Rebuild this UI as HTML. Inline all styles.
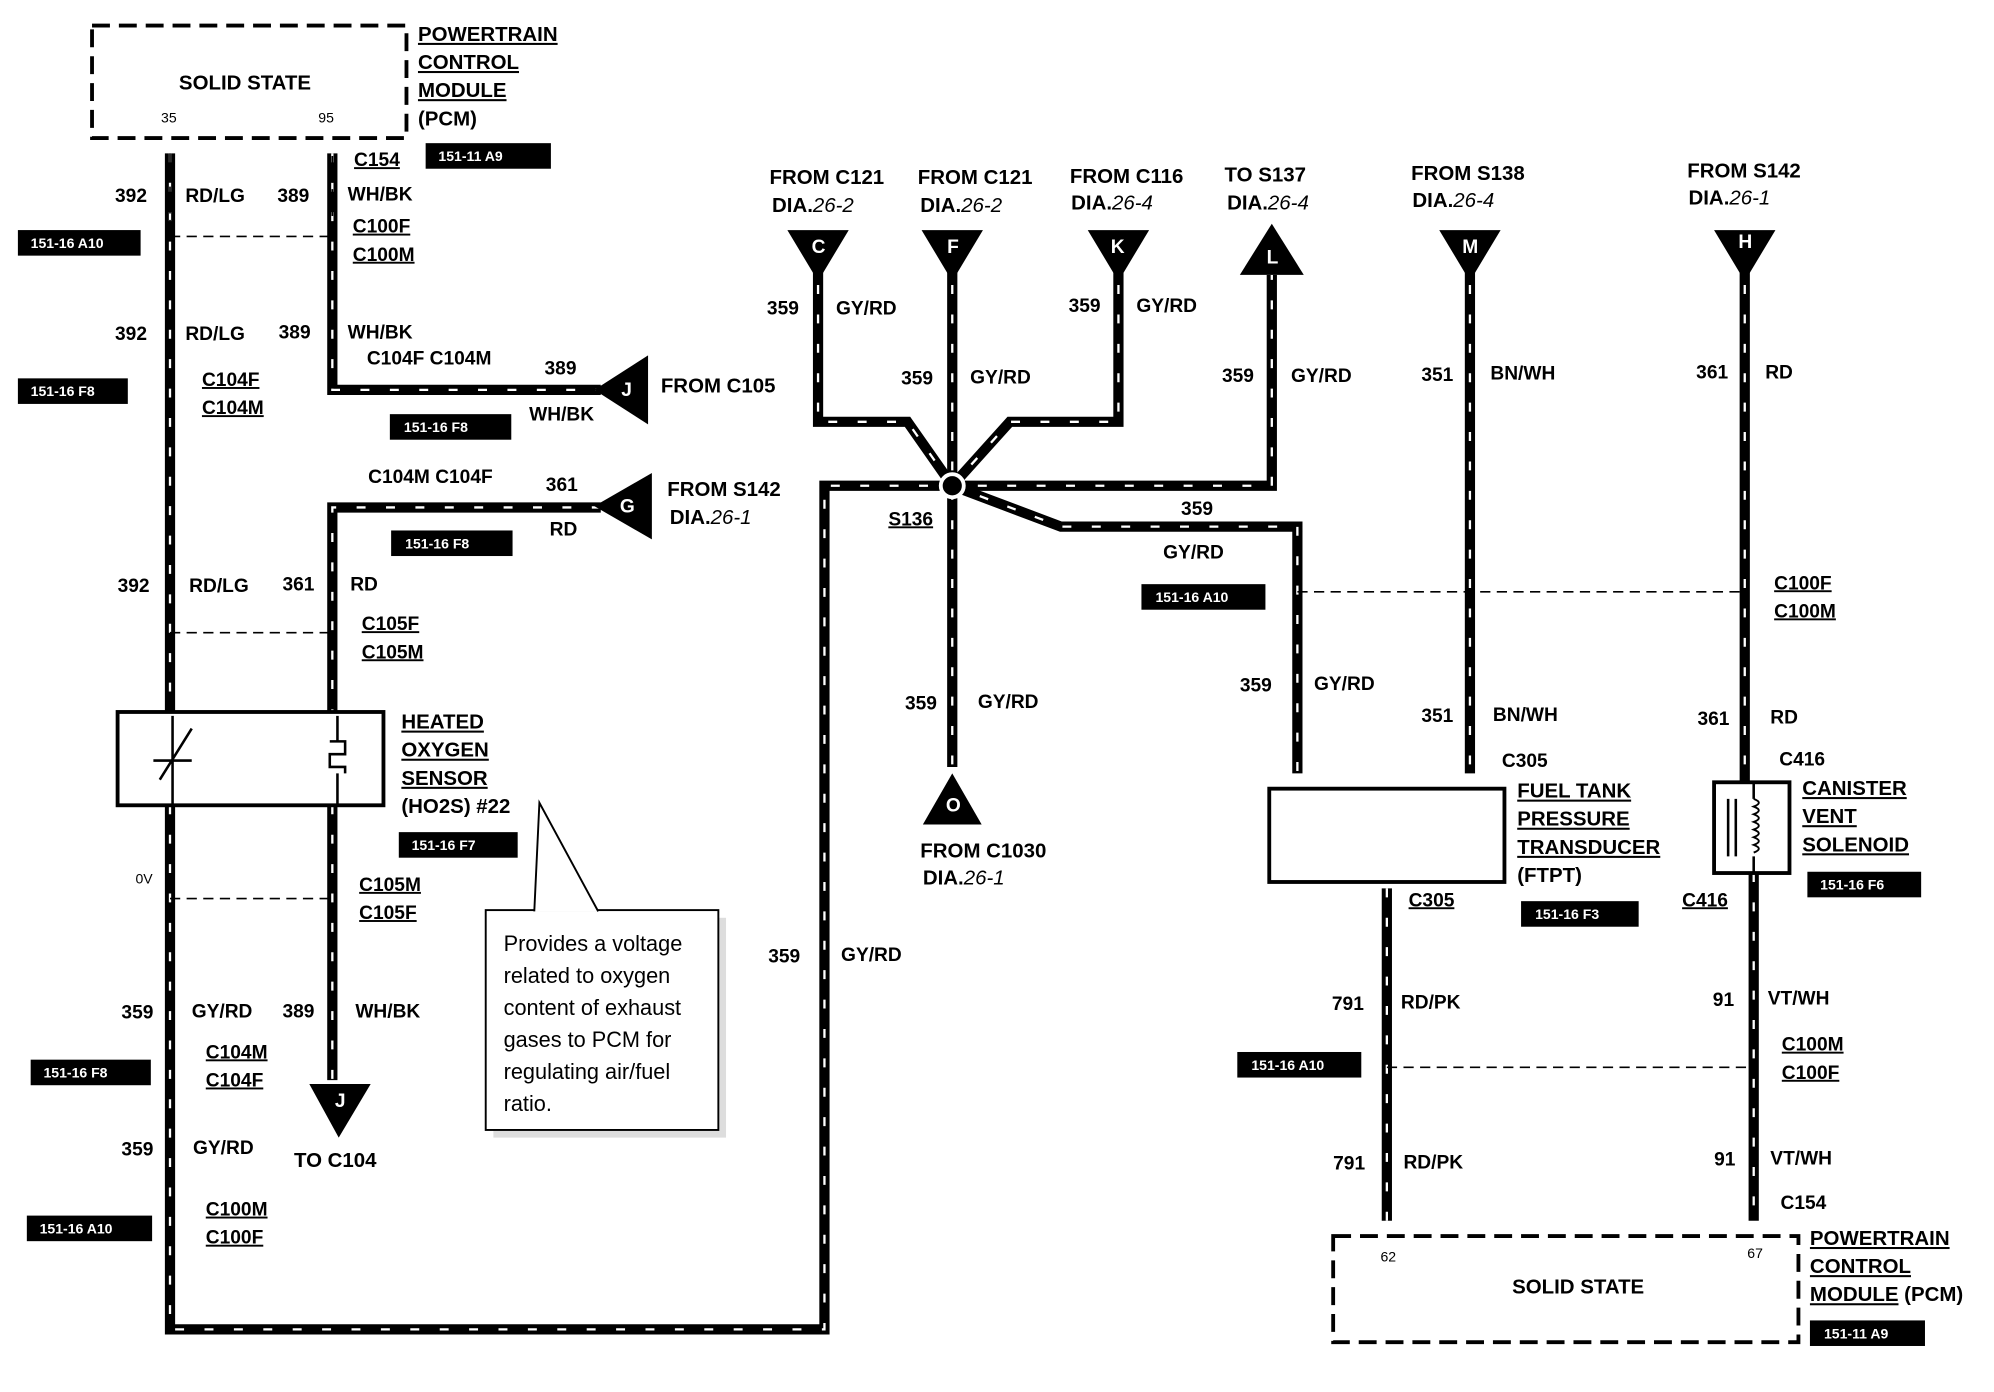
<!DOCTYPE html>
<html><head><meta charset="utf-8"><style>
html,body{margin:0;padding:0;background:#fff;}
svg{display:block;}
text{font-family:"Liberation Sans",sans-serif;font-weight:bold;font-size:15px;fill:#000;}
.w{stroke:#000;stroke-width:8;fill:none;stroke-linejoin:miter;}
.h{stroke:#fff;stroke-width:1.8;fill:none;stroke-dasharray:7 16;}
.d{stroke:#000;stroke-width:1.3;fill:none;stroke-dasharray:8 5;}
.t text{fill:#fff;font-size:11px;}
.u{text-decoration:underline;}
.s{font-size:11px;font-weight:normal;}
</style></head><body>
<svg width="1994" height="1392" viewBox="0 0 1560 1089" preserveAspectRatio="none" xmlns="http://www.w3.org/2000/svg">
<defs>
<g id="wires">
<path d="M133 120V557M133 630V1040H645V380H995V215"/>
<path d="M260 120V305H470"/>
<path d="M470 397H260V557M260 630V845"/>
<path d="M640 200V330H710L745 380"/>
<path d="M745 200V600"/>
<path d="M875 200V330H790L745 380"/>
<path d="M745 380L830 412H1015V605"/>
<path d="M1150 200V605M1365 200V612"/>
<path d="M1085 695V955M1372 683V955"/>
</g>
</defs>
<g class="w"><use href="#wires"/></g>
<g class="h"><use href="#wires"/></g>
<circle cx="745" cy="380" r="9" fill="#000" stroke="#fff" stroke-width="3"/>

<!-- dashed boxes -->
<rect x="72" y="20" width="246" height="88" fill="none" stroke="#000" stroke-width="3" stroke-dasharray="14 7"/>
<rect x="1043" y="967" width="364" height="83" fill="none" stroke="#000" stroke-width="3" stroke-dasharray="14 7"/>
<g class="d">
<path d="M133 120V185H260V120"/><path d="M133 495H260M133 703H260M1015 463H1365M1085 835H1372"/>
</g>
<!-- sensor boxes -->
<rect x="92" y="557" width="208" height="73" fill="#fff" stroke="#000" stroke-width="3"/>
<path d="M125 610L150 570M120 595H150M135 560V630M264 560V580M258 580h12v10h-12v10h12v5M264 605V630" stroke="#000" stroke-width="2" fill="none"/>
<rect x="993" y="617" width="184" height="73" fill="#fff" stroke="#000" stroke-width="3"/>
<rect x="1341" y="612" width="59" height="71" fill="#fff" stroke="#000" stroke-width="3"/>
<path d="M1352 625V670M1358 625V670M1372 612V625M1372 670V683" stroke="#000" stroke-width="2" fill="none"/>
<path d="M1372 625q8 3 0 6q8 3 0 6q8 3 0 6q8 3 0 6q8 3 0 6q8 3 0 6q8 3 0 6" stroke="#000" stroke-width="1.5" fill="none"/>
<!-- triangles -->
<g fill="#000">
<path d="M616 180H664L640 220Z"/><path d="M721 180H769L745 220Z"/><path d="M851 180H899L875 220Z"/>
<path d="M995 175L970 215H1020Z"/><path d="M1126 180H1174L1150 220Z"/><path d="M1341 180H1389L1365 220Z"/>
<path d="M465 305L507 278V332Z"/><path d="M465 396L510 370V422Z"/>
<path d="M242 848H290L265 890Z"/><path d="M745 605L722 645H768Z"/>
</g>
<g fill="#fff" style="font-size:14px">
<text x="635" y="198" style="fill:#fff">C</text><text x="741" y="198" style="fill:#fff">F</text><text x="869" y="198" style="fill:#fff">K</text>
<text x="991" y="206" style="fill:#fff">L</text><text x="1144" y="198" style="fill:#fff">M</text><text x="1360" y="194" style="fill:#fff">H</text>
<text x="486" y="310" style="fill:#fff">J</text><text x="485" y="401" style="fill:#fff">G</text>
<text x="262" y="866" style="fill:#fff">J</text><text x="740" y="635" style="fill:#fff">O</text>
</g>
<!-- tags -->
<g class="t">
<rect x="333" y="112" width="98" height="20"/><text x="343" y="126">151-11 A9</text>
<rect x="14" y="180" width="96" height="20"/><text x="24" y="194">151-16 A10</text>
<rect x="14" y="296" width="86" height="20"/><text x="24" y="310">151-16 F8</text>
<rect x="305" y="324" width="95" height="20"/><text x="316" y="338">151-16 F8</text>
<rect x="306" y="415" width="95" height="20"/><text x="317" y="429">151-16 F8</text>
<rect x="312" y="651" width="93" height="20"/><text x="322" y="665">151-16 F7</text>
<rect x="24" y="829" width="94" height="20"/><text x="34" y="843">151-16 F8</text>
<rect x="21" y="951" width="98" height="20"/><text x="31" y="965">151-16 A10</text>
<rect x="893" y="457" width="97" height="20"/><text x="904" y="471">151-16 A10</text>
<rect x="1414" y="682" width="89" height="20"/><text x="1424" y="696">151-16 F6</text>
<rect x="1190" y="705" width="92" height="20"/><text x="1201" y="719">151-16 F3</text>
<rect x="968" y="823" width="97" height="20"/><text x="979" y="837">151-16 A10</text>
<rect x="1416" y="1033" width="90" height="20"/><text x="1427" y="1047">151-11 A9</text>
</g>
<!-- callout -->
<rect x="386" y="718" width="182" height="172" fill="#ddd"/>
<rect x="380" y="712" width="182" height="172" fill="#fff" stroke="#000" stroke-width="1.5"/>
<path d="M418 713L422 628L468 713" fill="#fff" stroke="#000" stroke-width="1.5"/>
<g style="font-weight:normal;font-size:17px">
<text x="394" y="744" style="font-weight:normal;font-size:17px">Provides a voltage</text>
<text x="394" y="769" style="font-weight:normal;font-size:17px">related to oxygen</text>
<text x="394" y="794" style="font-weight:normal;font-size:17px">content of exhaust</text>
<text x="394" y="819" style="font-weight:normal;font-size:17px">gases to PCM for</text>
<text x="394" y="844" style="font-weight:normal;font-size:17px">regulating air/fuel</text>
<text x="394" y="869" style="font-weight:normal;font-size:17px">ratio.</text>
</g>
<!-- texts -->
<text x="140" y="70" style="font-size:16px">SOLID STATE</text>
<text x="126" y="96" class="s">35</text><text x="249" y="96" class="s">95</text>
<text x="327" y="32" style="font-size:16px" text-decoration="underline">POWERTRAIN</text>
<text x="327" y="54" style="font-size:16px" text-decoration="underline">CONTROL</text>
<text x="327" y="76" style="font-size:16px" text-decoration="underline">MODULE</text>
<text x="327" y="98" style="font-size:16px">(PCM)</text>
<text x="277" y="130" text-decoration="underline">C154</text>
<text x="90" y="158">392</text><text x="145" y="158">RD/LG</text><text x="217" y="158">389</text><text x="272" y="157">WH/BK</text>
<text x="276" y="182" text-decoration="underline">C100F</text><text x="276" y="204" text-decoration="underline">C100M</text>
<text x="90" y="266">392</text><text x="145" y="266">RD/LG</text><text x="218" y="265">389</text><text x="272" y="265">WH/BK</text>
<text x="287" y="285">C104F C104M</text><text x="426" y="293">389</text><text x="414" y="329">WH/BK</text>
<text x="517" y="307" style="font-size:16px">FROM C105</text>
<text x="158" y="302" text-decoration="underline">C104F</text><text x="158" y="324" text-decoration="underline">C104M</text>
<text x="288" y="378">C104M C104F</text><text x="427" y="384">361</text><text x="430" y="419">RD</text>
<text x="522" y="388" style="font-size:16px">FROM S142</text>
<text x="524" y="410" style="font-size:16px">DIA.<tspan font-style="italic" font-weight="normal">26-1</tspan></text>
<text x="92" y="463">392</text><text x="148" y="463">RD/LG</text><text x="221" y="462">361</text><text x="274" y="462">RD</text>
<text x="283" y="493" text-decoration="underline">C105F</text><text x="283" y="515" text-decoration="underline">C105M</text>
<text x="314" y="570" style="font-size:16px" text-decoration="underline">HEATED</text>
<text x="314" y="592" style="font-size:16px" text-decoration="underline">OXYGEN</text>
<text x="314" y="614" style="font-size:16px" text-decoration="underline">SENSOR</text>
<text x="314" y="636" style="font-size:16px">(HO2S) #22</text>
<text x="106" y="691" class="s">0V</text>
<text x="281" y="697" text-decoration="underline">C105M</text><text x="281" y="719" text-decoration="underline">C105F</text>
<text x="95" y="797">359</text><text x="150" y="796">GY/RD</text><text x="221" y="796">389</text><text x="278" y="796">WH/BK</text>
<text x="161" y="828" text-decoration="underline">C104M</text><text x="161" y="850" text-decoration="underline">C104F</text>
<text x="230" y="913" style="font-size:16px">TO C104</text>
<text x="95" y="904">359</text><text x="151" y="903">GY/RD</text>
<text x="161" y="951" text-decoration="underline">C100M</text><text x="161" y="973" text-decoration="underline">C100F</text>
<text x="602" y="144" style="font-size:16px">FROM C121</text><text x="604" y="166" style="font-size:16px">DIA.<tspan font-style="italic" font-weight="normal">26-2</tspan></text>
<text x="718" y="144" style="font-size:16px">FROM C121</text><text x="720" y="166" style="font-size:16px">DIA.<tspan font-style="italic" font-weight="normal">26-2</tspan></text>
<text x="837" y="143" style="font-size:16px">FROM C116</text><text x="838" y="164" style="font-size:16px">DIA.<tspan font-style="italic" font-weight="normal">26-4</tspan></text>
<text x="958" y="142" style="font-size:16px">TO S137</text><text x="960" y="164" style="font-size:16px">DIA.<tspan font-style="italic" font-weight="normal">26-4</tspan></text>
<text x="1104" y="141" style="font-size:16px">FROM S138</text><text x="1105" y="162" style="font-size:16px">DIA.<tspan font-style="italic" font-weight="normal">26-4</tspan></text>
<text x="1320" y="139" style="font-size:16px">FROM S142</text><text x="1321" y="160" style="font-size:16px">DIA.<tspan font-style="italic" font-weight="normal">26-1</tspan></text>
<text x="600" y="246">359</text><text x="654" y="246">GY/RD</text>
<text x="705" y="301">359</text><text x="759" y="300">GY/RD</text>
<text x="836" y="244">359</text><text x="889" y="244">GY/RD</text>
<text x="956" y="299">359</text><text x="1010" y="299">GY/RD</text>
<text x="1112" y="298">351</text><text x="1166" y="297">BN/WH</text>
<text x="1327" y="296">361</text><text x="1381" y="296">RD</text>
<text x="695" y="411" text-decoration="underline">S136</text>
<text x="924" y="403">359</text><text x="910" y="437">GY/RD</text>
<text x="1388" y="461" text-decoration="underline">C100F</text><text x="1388" y="483" text-decoration="underline">C100M</text>
<text x="708" y="555">359</text><text x="765" y="554">GY/RD</text>
<text x="720" y="671" style="font-size:16px">FROM C1030</text><text x="722" y="692" style="font-size:16px">DIA.<tspan font-style="italic" font-weight="normal">26-1</tspan></text>
<text x="970" y="541">359</text><text x="1028" y="540">GY/RD</text>
<text x="1112" y="565">351</text><text x="1168" y="564">BN/WH</text>
<text x="1328" y="567">361</text><text x="1385" y="566">RD</text>
<text x="1175" y="600">C305</text>
<text x="1187" y="624" style="font-size:16px" text-decoration="underline">FUEL TANK</text>
<text x="1187" y="646" style="font-size:16px" text-decoration="underline">PRESSURE</text>
<text x="1187" y="668" style="font-size:16px" text-decoration="underline">TRANSDUCER</text>
<text x="1187" y="690" style="font-size:16px">(FTPT)</text>
<text x="1392" y="599">C416</text>
<text x="1410" y="622" style="font-size:16px" text-decoration="underline">CANISTER</text>
<text x="1410" y="644" style="font-size:16px" text-decoration="underline">VENT</text>
<text x="1410" y="666" style="font-size:16px" text-decoration="underline">SOLENOID</text>
<text x="1102" y="709" text-decoration="underline">C305</text>
<text x="1316" y="709" text-decoration="underline">C416</text>
<text x="601" y="753">359</text><text x="658" y="752">GY/RD</text>
<text x="1042" y="790">791</text><text x="1096" y="789">RD/PK</text>
<text x="1340" y="787">91</text><text x="1383" y="786">VT/WH</text>
<text x="1394" y="822" text-decoration="underline">C100M</text><text x="1394" y="844" text-decoration="underline">C100F</text>
<text x="1043" y="915">791</text><text x="1098" y="914">RD/PK</text>
<text x="1341" y="912">91</text><text x="1385" y="911">VT/WH</text>
<text x="1393" y="946">C154</text>
<text x="1183" y="1012" style="font-size:16px">SOLID STATE</text>
<text x="1080" y="987" class="s">62</text><text x="1367" y="984" class="s">67</text>
<text x="1416" y="974" style="font-size:16px" text-decoration="underline">POWERTRAIN</text>
<text x="1416" y="996" style="font-size:16px" text-decoration="underline">CONTROL</text>
<text x="1416" y="1018" style="font-size:16px"><tspan text-decoration="underline">MODULE</tspan> (PCM)</text>
</svg>
</body></html>
